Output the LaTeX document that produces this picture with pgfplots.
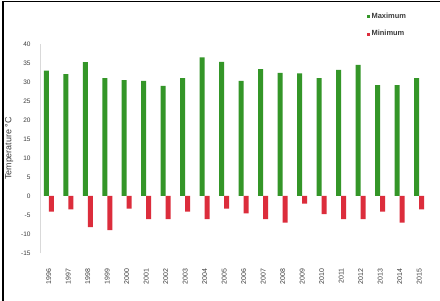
\documentclass[border=0pt]{standalone}
\usepackage{pgfplots}
\pgfplotsset{compat=1.18}
\usepackage{fontspec}
\setmainfont{Liberation Sans}
\definecolor{gmax}{RGB}{52,150,40}
\definecolor{rmin}{RGB}{220,45,60}
\definecolor{txt}{RGB}{60,60,60}
\begin{document}
\begin{tikzpicture}
\useasboundingbox (0,0) rectangle (440bp,301bp);
\fill[white] (0,0) rectangle (440bp,301bp);
\draw[line width=1.6bp,black] (3bp,0) -- (3bp,299.5bp) -- (440bp,299.5bp);
\begin{axis}[
  at={(40bp,48bp)}, anchor=south west,
  scale only axis, width=385bp, height=209bp,
  xmin=-0.45, xmax=19.3, ymin=-15, ymax=40,
  ybar=0pt, bar width=5bp,
  axis lines=left, axis line style={-, draw=black!15},
  x axis line style={draw=none},
  major tick length=0pt,
  ytick={-15,-10,...,40},
  yticklabel style={font=\fontsize{6.5}{7}\selectfont, text=txt, xshift=-6bp},
  /pgf/number format/assume math mode=true,
  xtick={0,...,19},
  xticklabels={1996,1997,1998,1999,2000,2001,2002,2003,2004,2005,2006,2007,2008,2009,2010,2011,2012,2013,2014,2015},
  xticklabel style={rotate=90, anchor=east, font=\fontsize{7}{7}\selectfont, text=txt},
  xticklabel shift=12bp,
  ylabel={Temperature °C},
  every axis y label/.style={at={(axis description cs:-0.08,0.5)}, rotate=90, anchor=center, font=\fontsize{9}{9}\selectfont, text=txt},
  legend style={at={(0.84,1.17)}, anchor=north west, draw=none, fill=none,
    font=\fontsize{7.5}{9}\selectfont\bfseries, text=txt, row sep=7bp,
    legend cell align=left},
  legend image code/.code={\fill[#1] (0bp,-1.5bp) rectangle (3bp,1.5bp);},
]
\addplot[fill=gmax, draw=none] coordinates {
(0,33) (1,32.1) (2,35.2) (3,31) (4,30.5) (5,30.3) (6,29) (7,31) (8,36.5) (9,35.3)
(10,30.3) (11,33.4) (12,32.4) (13,32.3) (14,31) (15,33.2) (16,34.5) (17,29.2) (18,29.2) (19,31)};
\addplot[fill=rmin, draw=none] coordinates {
(0,-4.1) (1,-3.5) (2,-8.2) (3,-9) (4,-3.3) (5,-6.1) (6,-6.1) (7,-4.1) (8,-6.1) (9,-3.3)
(10,-4.6) (11,-6.1) (12,-7) (13,-2) (14,-4.8) (15,-6.1) (16,-6.1) (17,-4.1) (18,-7) (19,-3.5)};
\legend{Maximum,Minimum}
\end{axis}
\end{tikzpicture}
\end{document}
